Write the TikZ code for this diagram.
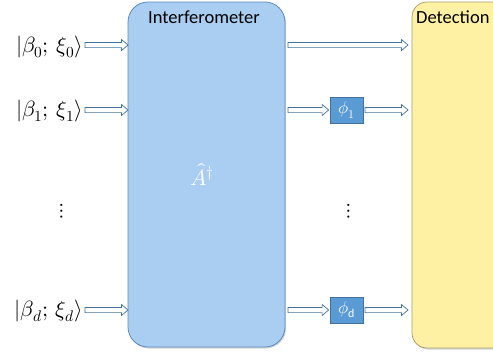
\documentclass[tikz,border=0pt]{standalone}
\usepackage{fontspec}
\setmainfont{Carlito}
\usepackage{unicode-math}
\setmathfont{Latin Modern Math}
\usetikzlibrary{calc,shadows}
\definecolor{ifill}{HTML}{A9CEF2}
\definecolor{iedge}{HTML}{5A89BE}
\definecolor{dfill}{HTML}{FFF1A3}
\definecolor{dedge}{HTML}{A8A070}
\definecolor{pfill}{HTML}{5B9BD5}
\definecolor{pedge}{HTML}{41719C}
\definecolor{aedge}{HTML}{41719C}
\tikzset{
  bigbox/.style={draw, line width=0.8pt, inner sep=0pt, minimum width=#1,
    drop shadow={opacity=0.35, shadow xshift=1pt, shadow yshift=-1.5pt}},
  phibox/.style={draw=pedge, fill=pfill, line width=0.8pt, inner sep=0pt,
    minimum width=33pt, minimum height=26pt, text=white, font=\fontsize{17}{17}\selectfont,
    drop shadow={opacity=0.3, shadow xshift=1pt, shadow yshift=-1pt}},
  lab/.style={inner sep=0pt, font=\fontsize{22}{22}\selectfont, anchor=east},
  title/.style={inner sep=0pt, font=\fontsize{18.5}{18.5}\selectfont},
  harrow/.style={draw=aedge, fill=white, line width=0.7pt, line join=miter,
    to path={let \p1=(\tikztostart), \p2=(\tikztotarget) in
      (\x1,{\y1+2.6pt}) -- ({\x2-6.5pt},{\y1+2.6pt}) -- ({\x2-6.5pt},{\y1+5.5pt})
      -- (\x2,\y1) -- ({\x2-6.5pt},{\y1-5.5pt}) -- ({\x2-6.5pt},{\y1-2.6pt})
      -- (\x1,{\y1-2.6pt}) -- cycle}},
  vdots/.style={inner sep=0pt, font=\fontsize{21}{21}\selectfont}
}
\begin{document}
\begin{tikzpicture}[x=1pt,y=-1pt]
\useasboundingbox (0,0) rectangle (493,360);
\clip (0,0) rectangle (493,360);
% boxes
\node[bigbox=157pt, minimum height=345pt, rounded corners=20pt, draw=iedge, fill=ifill] (I) at (206.5,174.5) {};
\node[bigbox=110pt, minimum height=346pt, rounded corners=15pt, draw=dedge, fill=dfill] (D) at (467,175) {};
\node[title, anchor=base] (It) at (204,23) {Interferometer};
\node[title, anchor=base west] (Dt) at (416,23) {Detection};
\node[inner sep=0pt, text=white, font=\fontsize{22}{22}\selectfont] (A) at (202,174) {$\hat{A}^{\dagger}$};
% input labels
\node[lab] (in0) at (83,47) {$|\beta_0;\,\xi_0\rangle$};
\node[lab] (in1) at (83,111) {$|\beta_1;\,\xi_1\rangle$};
\node[lab] (ind) at (83,311) {$|\beta_d;\,\xi_d\rangle$};
\node[vdots] (dl) at (62,211) {$\vdots$};
\node[vdots] (dr) at (349,211) {$\vdots$};
% phase boxes
\node[phibox] (p1) at (346.5,110) {$\phi_1$};
\node[phibox] (pd) at (346.5,310) {$\phi_{\mathrm{d}}$};
% arrow end points
\coordinate (a0) at (85,45);
\coordinate (a1) at (85,110);
\coordinate (ad) at (85,310);
\coordinate (i0) at (128,45);
\coordinate (i1) at (128,110);
\coordinate (id) at (128,310);
\coordinate (o0) at (288,45);
\coordinate (o1) at (288,110);
\coordinate (od) at (288,310);
\coordinate (q1s) at ([xshift=1.5pt]p1.east);
\coordinate (qds) at ([xshift=1.5pt]pd.east);
\coordinate (q1e) at ([xshift=-1pt]p1.west);
\coordinate (qde) at ([xshift=-1pt]pd.west);
\coordinate (t0) at (408,45);
\coordinate (t1) at (408,110);
\coordinate (td) at (408,310);
% input arrows
\draw[harrow] (a0) to (i0);
\draw[harrow] (a1) to (i1);
\draw[harrow] (ad) to (id);
% output arrows
\draw[harrow] (o0) to (t0);
\draw[harrow] (o1) to (q1e);
\draw[harrow] (q1s) to (t1);
\draw[harrow] (od) to (qde);
\draw[harrow] (qds) to (td);
\end{tikzpicture}
\end{document}
